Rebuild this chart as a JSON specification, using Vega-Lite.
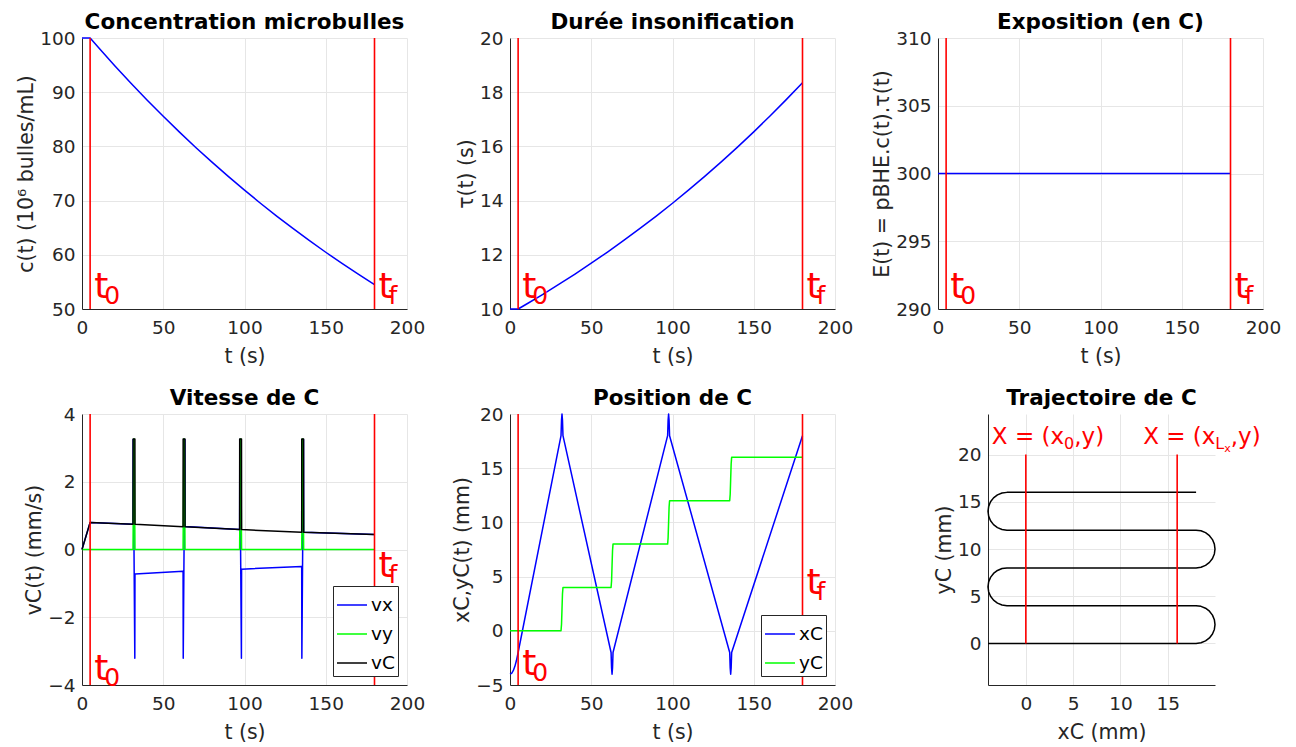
{
  "$schema": "https://vega.github.io/schema/vega-lite/v6.json",
  "padding": {"left": 16, "top": 11, "right": 5, "bottom": 0},
  "config": {
    "font": "DejaVu Sans",
    "background": "white",
    "view": {"stroke": null},
    "axis": {"grid": true, "gridColor": "#e6e6e6", "gridWidth": 1, "domainColor": "#262626", "domainWidth": 1, "ticks": false, "tickSize": 0, "labelFontSize": 18.5, "labelColor": "#262626", "labelFlush": false, "labelOverlap": false, "titleFontSize": 20.5, "titleColor": "#262626", "titleFontWeight": "normal", "labelPadding": 7, "titlePadding": 3},
    "axisX": {"labelPadding": 9, "titlePadding": 10},
    "title": {"fontSize": 21.5, "fontWeight": "bold", "color": "#000000", "offset": -4, "frame": "group"},
    "line": {"strokeWidth": 1.5, "strokeJoin": "round"}
  },
  "datasets": {
    "conc": [
      {"t": 0, "c": 100}, {"t": 5, "c": 100}, {"t": 10, "c": 98.28}, {"t": 20, "c": 94.93}, {"t": 30, "c": 91.69}, {"t": 40, "c": 88.57}, {"t": 50, "c": 85.55}, {"t": 60, "c": 82.63}, {"t": 70, "c": 79.81}, {"t": 80, "c": 77.09}, {"t": 90, "c": 74.46}, {"t": 100, "c": 71.92}, {"t": 110, "c": 69.47}, {"t": 120, "c": 67.10}, {"t": 130, "c": 64.82}, {"t": 140, "c": 62.61}, {"t": 150, "c": 60.47}, {"t": 160, "c": 58.41}, {"t": 170, "c": 56.42}, {"t": 180, "c": 54.49}
    ],
    "tau": [
      {"t": 0, "tau": 10}, {"t": 5, "tau": 10}, {"t": 10, "tau": 10.175}, {"t": 20, "tau": 10.534}, {"t": 30, "tau": 10.906}, {"t": 40, "tau": 11.291}, {"t": 50, "tau": 11.689}, {"t": 60, "tau": 12.102}, {"t": 70, "tau": 12.529}, {"t": 80, "tau": 12.972}, {"t": 90, "tau": 13.430}, {"t": 100, "tau": 13.903}, {"t": 110, "tau": 14.394}, {"t": 120, "tau": 14.902}, {"t": 130, "tau": 15.428}, {"t": 140, "tau": 15.973}, {"t": 150, "tau": 16.537}, {"t": 160, "tau": 17.121}, {"t": 170, "tau": 17.725}, {"t": 180, "tau": 18.351}
    ],
    "expo": [{"t": 0, "E": 300}, {"t": 180, "E": 300}],
    "bounds": [{"t": 5, "sub": "0"}, {"t": 180, "sub": "f"}],
    "vit": [
      {"t": 0, "v": 0, "s": "vx"}, {"t": 5, "v": 0.8, "s": "vx"}, {"t": 31.4, "v": 0.745, "s": "vx"}, {"t": 31.5, "v": 3.25, "s": "vx"}, {"t": 32.5, "v": -3.21, "s": "vx"}, {"t": 32.6, "v": -0.72, "s": "vx"}, {"t": 62.2, "v": -0.645, "s": "vx"}, {"t": 62.3, "v": -3.21, "s": "vx"}, {"t": 63.3, "v": 3.25, "s": "vx"}, {"t": 63.4, "v": 0.677, "s": "vx"}, {"t": 97.0, "v": 0.59, "s": "vx"}, {"t": 97.1, "v": 3.25, "s": "vx"}, {"t": 98.1, "v": -3.21, "s": "vx"}, {"t": 98.2, "v": -0.58, "s": "vx"}, {"t": 135.2, "v": -0.5, "s": "vx"}, {"t": 135.3, "v": -3.21, "s": "vx"}, {"t": 136.3, "v": 3.25, "s": "vx"}, {"t": 136.4, "v": 0.507, "s": "vx"}, {"t": 180, "v": 0.44, "s": "vx"},
      {"t": 0, "v": 0, "s": "vy"}, {"t": 31.4, "v": 0, "s": "vy"}, {"t": 31.9, "v": 3.26, "s": "vy"}, {"t": 32.1, "v": 3.26, "s": "vy"}, {"t": 32.6, "v": 0, "s": "vy"}, {"t": 62.2, "v": 0, "s": "vy"}, {"t": 62.7, "v": 3.26, "s": "vy"}, {"t": 62.9, "v": 3.26, "s": "vy"}, {"t": 63.4, "v": 0, "s": "vy"}, {"t": 97.0, "v": 0, "s": "vy"}, {"t": 97.5, "v": 3.26, "s": "vy"}, {"t": 97.7, "v": 3.26, "s": "vy"}, {"t": 98.2, "v": 0, "s": "vy"}, {"t": 135.2, "v": 0, "s": "vy"}, {"t": 135.7, "v": 3.26, "s": "vy"}, {"t": 135.9, "v": 3.26, "s": "vy"}, {"t": 136.4, "v": 0, "s": "vy"}, {"t": 180, "v": 0, "s": "vy"},
      {"t": 0, "v": 0, "s": "vC"}, {"t": 5, "v": 0.8, "s": "vC"}, {"t": 31.4, "v": 0.745, "s": "vC"}, {"t": 31.45, "v": 3.26, "s": "vC"}, {"t": 32.55, "v": 3.26, "s": "vC"}, {"t": 32.6, "v": 0.742, "s": "vC"}, {"t": 62.2, "v": 0.675, "s": "vC"}, {"t": 62.25, "v": 3.26, "s": "vC"}, {"t": 63.35, "v": 3.26, "s": "vC"}, {"t": 63.4, "v": 0.672, "s": "vC"}, {"t": 97.0, "v": 0.59, "s": "vC"}, {"t": 97.05, "v": 3.26, "s": "vC"}, {"t": 98.15, "v": 3.26, "s": "vC"}, {"t": 98.2, "v": 0.587, "s": "vC"}, {"t": 135.2, "v": 0.51, "s": "vC"}, {"t": 135.25, "v": 3.26, "s": "vC"}, {"t": 136.35, "v": 3.26, "s": "vC"}, {"t": 136.4, "v": 0.507, "s": "vC"}, {"t": 180, "v": 0.44, "s": "vC"}
    ],
    "pos": [
      {"t": 0, "p": -4, "s": "xC"}, {"t": 1, "p": -3.92, "s": "xC"}, {"t": 2, "p": -3.68, "s": "xC"}, {"t": 3, "p": -3.28, "s": "xC"}, {"t": 4, "p": -2.72, "s": "xC"}, {"t": 5, "p": -2, "s": "xC"}, {"t": 31.4, "p": 18, "s": "xC"}, {"t": 31.7, "p": 19.41, "s": "xC"}, {"t": 32.0, "p": 20, "s": "xC"}, {"t": 32.3, "p": 19.41, "s": "xC"}, {"t": 32.6, "p": 18, "s": "xC"}, {"t": 62.2, "p": -2, "s": "xC"}, {"t": 62.5, "p": -3.41, "s": "xC"}, {"t": 62.8, "p": -4, "s": "xC"}, {"t": 63.1, "p": -3.41, "s": "xC"}, {"t": 63.4, "p": -2, "s": "xC"}, {"t": 97.0, "p": 18, "s": "xC"}, {"t": 97.3, "p": 19.41, "s": "xC"}, {"t": 97.6, "p": 20, "s": "xC"}, {"t": 97.9, "p": 19.41, "s": "xC"}, {"t": 98.2, "p": 18, "s": "xC"}, {"t": 135.2, "p": -2, "s": "xC"}, {"t": 135.5, "p": -3.41, "s": "xC"}, {"t": 135.8, "p": -4, "s": "xC"}, {"t": 136.1, "p": -3.41, "s": "xC"}, {"t": 136.4, "p": -2, "s": "xC"}, {"t": 180, "p": 18, "s": "xC"},
      {"t": 0, "p": 0, "s": "yC"}, {"t": 31.4, "p": 0, "s": "yC"}, {"t": 31.7, "p": 0.59, "s": "yC"}, {"t": 32.0, "p": 2, "s": "yC"}, {"t": 32.3, "p": 3.41, "s": "yC"}, {"t": 32.6, "p": 4, "s": "yC"}, {"t": 62.2, "p": 4, "s": "yC"}, {"t": 62.5, "p": 4.59, "s": "yC"}, {"t": 62.8, "p": 6, "s": "yC"}, {"t": 63.1, "p": 7.41, "s": "yC"}, {"t": 63.4, "p": 8, "s": "yC"}, {"t": 97.0, "p": 8, "s": "yC"}, {"t": 97.3, "p": 8.59, "s": "yC"}, {"t": 97.6, "p": 10, "s": "yC"}, {"t": 97.9, "p": 11.41, "s": "yC"}, {"t": 98.2, "p": 12, "s": "yC"}, {"t": 135.2, "p": 12, "s": "yC"}, {"t": 135.5, "p": 12.59, "s": "yC"}, {"t": 135.8, "p": 14, "s": "yC"}, {"t": 136.1, "p": 15.41, "s": "yC"}, {"t": 136.4, "p": 16, "s": "yC"}, {"t": 180, "p": 16, "s": "yC"}
    ],
    "traj": [
      {"i": 0, "x": -4, "y": 0}, {"i": 1, "x": 18, "y": 0}, {"i": 2, "x": 18.518, "y": 0.068}, {"i": 3, "x": 19, "y": 0.268}, {"i": 4, "x": 19.414, "y": 0.586}, {"i": 5, "x": 19.732, "y": 1}, {"i": 6, "x": 19.932, "y": 1.482}, {"i": 7, "x": 20, "y": 2}, {"i": 8, "x": 19.932, "y": 2.518}, {"i": 9, "x": 19.732, "y": 3}, {"i": 10, "x": 19.414, "y": 3.414}, {"i": 11, "x": 19, "y": 3.732}, {"i": 12, "x": 18.518, "y": 3.932}, {"i": 13, "x": 18, "y": 4},
      {"i": 14, "x": -2, "y": 4}, {"i": 15, "x": -2.518, "y": 4.068}, {"i": 16, "x": -3, "y": 4.268}, {"i": 17, "x": -3.414, "y": 4.586}, {"i": 18, "x": -3.732, "y": 5}, {"i": 19, "x": -3.932, "y": 5.482}, {"i": 20, "x": -4, "y": 6}, {"i": 21, "x": -3.932, "y": 6.518}, {"i": 22, "x": -3.732, "y": 7}, {"i": 23, "x": -3.414, "y": 7.414}, {"i": 24, "x": -3, "y": 7.732}, {"i": 25, "x": -2.518, "y": 7.932}, {"i": 26, "x": -2, "y": 8},
      {"i": 27, "x": 18, "y": 8}, {"i": 28, "x": 18.518, "y": 8.068}, {"i": 29, "x": 19, "y": 8.268}, {"i": 30, "x": 19.414, "y": 8.586}, {"i": 31, "x": 19.732, "y": 9}, {"i": 32, "x": 19.932, "y": 9.482}, {"i": 33, "x": 20, "y": 10}, {"i": 34, "x": 19.932, "y": 10.518}, {"i": 35, "x": 19.732, "y": 11}, {"i": 36, "x": 19.414, "y": 11.414}, {"i": 37, "x": 19, "y": 11.732}, {"i": 38, "x": 18.518, "y": 11.932}, {"i": 39, "x": 18, "y": 12},
      {"i": 40, "x": -2, "y": 12}, {"i": 41, "x": -2.518, "y": 12.068}, {"i": 42, "x": -3, "y": 12.268}, {"i": 43, "x": -3.414, "y": 12.586}, {"i": 44, "x": -3.732, "y": 13}, {"i": 45, "x": -3.932, "y": 13.482}, {"i": 46, "x": -4, "y": 14}, {"i": 47, "x": -3.932, "y": 14.518}, {"i": 48, "x": -3.732, "y": 15}, {"i": 49, "x": -3.414, "y": 15.414}, {"i": 50, "x": -3, "y": 15.732}, {"i": 51, "x": -2.518, "y": 15.932}, {"i": 52, "x": -2, "y": 16}, {"i": 53, "x": 18, "y": 16}
    ],
    "limits": [{"x": 0, "sub": "0", "sub2": ""}, {"x": 16, "sub": "L", "sub2": "x"}]
  },
  "spacing": 20,
  "resolve": {"scale": {"color": "independent"}, "legend": {"color": "independent"}},
  "vconcat": [
    {
      "spacing": 103,
      "bounds": "flush",
      "hconcat": [
        {
          "title": "Concentration microbulles",
          "width": 325, "height": 271,
          "layer": [
            {"data": {"name": "conc"}, "mark": {"type": "line", "color": "#0000ff"},
             "encoding": {
               "x": {"field": "t", "type": "quantitative", "scale": {"domain": [0, 200], "nice": false}, "axis": {"title": "t (s)", "values": [0, 50, 100, 150, 200]}},
               "y": {"field": "c", "type": "quantitative", "scale": {"domain": [50, 100], "nice": false, "zero": false}, "axis": {"title": "c(t) (10⁶ bulles/mL)", "values": [50, 60, 70, 80, 90, 100]}}}},
            {"data": {"name": "bounds"}, "mark": {"type": "rule", "color": "#ff0000", "strokeWidth": 1.6}, "encoding": {"x": {"field": "t", "type": "quantitative"}}},
            {"data": {"name": "bounds"}, "mark": {"type": "text", "text": "t", "fontSize": 36, "color": "#ff0000", "align": "left", "baseline": "alphabetic", "dx": 4}, "encoding": {"x": {"field": "t", "type": "quantitative"}, "y": {"datum": 52}}},
            {"data": {"name": "bounds"}, "mark": {"type": "text", "fontSize": 25, "color": "#ff0000", "align": "left", "baseline": "alphabetic", "dx": 14, "dy": 6}, "encoding": {"x": {"field": "t", "type": "quantitative"}, "y": {"datum": 52}, "text": {"field": "sub"}}}
          ]
        },
        {
          "title": "Durée insonification",
          "width": 325, "height": 271,
          "layer": [
            {"data": {"name": "tau"}, "mark": {"type": "line", "color": "#0000ff"},
             "encoding": {
               "x": {"field": "t", "type": "quantitative", "scale": {"domain": [0, 200], "nice": false}, "axis": {"title": "t (s)", "values": [0, 50, 100, 150, 200]}},
               "y": {"field": "tau", "type": "quantitative", "scale": {"domain": [10, 20], "nice": false, "zero": false}, "axis": {"title": "τ(t) (s)", "values": [10, 12, 14, 16, 18, 20]}}}},
            {"data": {"name": "bounds"}, "mark": {"type": "rule", "color": "#ff0000", "strokeWidth": 1.6}, "encoding": {"x": {"field": "t", "type": "quantitative"}}},
            {"data": {"name": "bounds"}, "mark": {"type": "text", "text": "t", "fontSize": 36, "color": "#ff0000", "align": "left", "baseline": "alphabetic", "dx": 4}, "encoding": {"x": {"field": "t", "type": "quantitative"}, "y": {"datum": 10.41}}},
            {"data": {"name": "bounds"}, "mark": {"type": "text", "fontSize": 25, "color": "#ff0000", "align": "left", "baseline": "alphabetic", "dx": 14, "dy": 6}, "encoding": {"x": {"field": "t", "type": "quantitative"}, "y": {"datum": 10.41}, "text": {"field": "sub"}}}
          ]
        },
        {
          "title": "Exposition (en C)",
          "width": 325, "height": 271,
          "layer": [
            {"data": {"name": "expo"}, "mark": {"type": "line", "color": "#0000ff"},
             "encoding": {
               "x": {"field": "t", "type": "quantitative", "scale": {"domain": [0, 200], "nice": false}, "axis": {"title": "t (s)", "values": [0, 50, 100, 150, 200]}},
               "y": {"field": "E", "type": "quantitative", "scale": {"domain": [290, 310], "nice": false, "zero": false}, "axis": {"title": "E(t) = pBHE.c(t).τ(t)", "values": [290, 295, 300, 305, 310]}}}},
            {"data": {"name": "bounds"}, "mark": {"type": "rule", "color": "#ff0000", "strokeWidth": 1.6}, "encoding": {"x": {"field": "t", "type": "quantitative"}}},
            {"data": {"name": "bounds"}, "mark": {"type": "text", "text": "t", "fontSize": 36, "color": "#ff0000", "align": "left", "baseline": "alphabetic", "dx": 4}, "encoding": {"x": {"field": "t", "type": "quantitative"}, "y": {"datum": 290.8}}},
            {"data": {"name": "bounds"}, "mark": {"type": "text", "fontSize": 25, "color": "#ff0000", "align": "left", "baseline": "alphabetic", "dx": 14, "dy": 6}, "encoding": {"x": {"field": "t", "type": "quantitative"}, "y": {"datum": 290.8}, "text": {"field": "sub"}}}
          ]
        }
      ]
    },
    {
      "spacing": 103,
      "bounds": "flush",
      "resolve": {"scale": {"color": "independent"}, "legend": {"color": "independent"}},
      "hconcat": [
        {
          "title": "Vitesse de C",
          "width": 325, "height": 271,
          "encoding": {
            "x": {"field": "t", "type": "quantitative", "scale": {"domain": [0, 200], "nice": false}, "axis": {"title": "t (s)", "values": [0, 50, 100, 150, 200]}}
          },
          "layer": [
            {"data": {"name": "vit"}, "transform": [{"filter": "datum.s == 'vx'"}], "mark": {"type": "line"},
             "encoding": {
               "y": {"field": "v", "type": "quantitative", "scale": {"domain": [-4, 4], "nice": false, "zero": false}, "axis": {"title": "vC(t) (mm/s)", "values": [-4, -2, 0, 2, 4]}},
               "color": {"field": "s", "type": "nominal", "scale": {"domain": ["vx", "vy", "vC"], "range": ["#0000ff", "#00ff00", "#000000"]}, "legend": {"title": null, "orient": "bottom-right", "offset": 9, "fillColor": "#ffffff", "strokeColor": "#262626", "padding": 3, "symbolType": "stroke", "symbolSize": 900, "symbolStrokeWidth": 1.5, "labelFontSize": 18.5, "labelColor": "#000000", "rowPadding": 3, "labelOffset": 3}}}},
            {"data": {"name": "vit"}, "transform": [{"filter": "datum.s == 'vy'"}], "mark": {"type": "line"},
             "encoding": {"y": {"field": "v", "type": "quantitative"}, "color": {"field": "s", "type": "nominal"}}},
            {"data": {"name": "vit"}, "transform": [{"filter": "datum.s == 'vC'"}], "mark": {"type": "line"},
             "encoding": {"y": {"field": "v", "type": "quantitative"}, "color": {"field": "s", "type": "nominal"}}},
            {"data": {"name": "bounds"}, "mark": {"type": "rule", "color": "#ff0000", "strokeWidth": 1.6}, "encoding": {"x": {"field": "t", "type": "quantitative"}}},
            {"data": {"name": "bounds"}, "transform": [{"filter": "datum.t < 100"}], "mark": {"type": "text", "text": "t", "fontSize": 36, "color": "#ff0000", "align": "left", "baseline": "alphabetic", "dx": 4}, "encoding": {"x": {"field": "t", "type": "quantitative"}, "y": {"datum": -3.84}}},
            {"data": {"name": "bounds"}, "transform": [{"filter": "datum.t < 100"}], "mark": {"type": "text", "fontSize": 25, "color": "#ff0000", "align": "left", "baseline": "alphabetic", "dx": 14, "dy": 6}, "encoding": {"x": {"field": "t", "type": "quantitative"}, "y": {"datum": -3.84}, "text": {"field": "sub"}}},
            {"data": {"name": "bounds"}, "transform": [{"filter": "datum.t > 100"}], "mark": {"type": "text", "text": "t", "fontSize": 36, "color": "#ff0000", "align": "left", "baseline": "alphabetic", "dx": 4}, "encoding": {"x": {"field": "t", "type": "quantitative"}, "y": {"datum": -0.8}}},
            {"data": {"name": "bounds"}, "transform": [{"filter": "datum.t > 100"}], "mark": {"type": "text", "fontSize": 25, "color": "#ff0000", "align": "left", "baseline": "alphabetic", "dx": 14, "dy": 6}, "encoding": {"x": {"field": "t", "type": "quantitative"}, "y": {"datum": -0.8}, "text": {"field": "sub"}}}
          ]
        },
        {
          "spacing": 153,
          "bounds": "flush",
          "resolve": {"scale": {"color": "independent"}, "legend": {"color": "independent"}},
          "hconcat": [
            {
              "title": "Position de C",
              "width": 325, "height": 271,
              "encoding": {
                "x": {"field": "t", "type": "quantitative", "scale": {"domain": [0, 200], "nice": false}, "axis": {"title": "t (s)", "values": [0, 50, 100, 150, 200]}}
              },
              "layer": [
                {"data": {"name": "pos"}, "transform": [{"filter": "datum.s == 'xC'"}], "mark": {"type": "line"},
                 "encoding": {
                   "y": {"field": "p", "type": "quantitative", "scale": {"domain": [-5, 20], "nice": false, "zero": false}, "axis": {"title": "xC,yC(t) (mm)", "values": [-5, 0, 5, 10, 15, 20]}},
                   "color": {"field": "s", "type": "nominal", "scale": {"domain": ["xC", "yC"], "range": ["#0000ff", "#00ff00"]}, "legend": {"title": null, "orient": "bottom-right", "offset": 9, "fillColor": "#ffffff", "strokeColor": "#262626", "padding": 3, "symbolType": "stroke", "symbolSize": 900, "symbolStrokeWidth": 1.5, "labelFontSize": 18.5, "labelColor": "#000000", "rowPadding": 3, "labelOffset": 3}}}},
                {"data": {"name": "pos"}, "transform": [{"filter": "datum.s == 'yC'"}], "mark": {"type": "line"},
                 "encoding": {"y": {"field": "p", "type": "quantitative"}, "color": {"field": "s", "type": "nominal"}}},
                {"data": {"name": "bounds"}, "mark": {"type": "rule", "color": "#ff0000", "strokeWidth": 1.6}, "encoding": {"x": {"field": "t", "type": "quantitative"}}},
                {"data": {"name": "bounds"}, "transform": [{"filter": "datum.t < 100"}], "mark": {"type": "text", "text": "t", "fontSize": 36, "color": "#ff0000", "align": "left", "baseline": "alphabetic", "dx": 4}, "encoding": {"x": {"field": "t", "type": "quantitative"}, "y": {"datum": -4.08}}},
                {"data": {"name": "bounds"}, "transform": [{"filter": "datum.t < 100"}], "mark": {"type": "text", "fontSize": 25, "color": "#ff0000", "align": "left", "baseline": "alphabetic", "dx": 14, "dy": 6}, "encoding": {"x": {"field": "t", "type": "quantitative"}, "y": {"datum": -4.08}, "text": {"field": "sub"}}},
                {"data": {"name": "bounds"}, "transform": [{"filter": "datum.t > 100"}], "mark": {"type": "text", "text": "t", "fontSize": 36, "color": "#ff0000", "align": "left", "baseline": "alphabetic", "dx": 4}, "encoding": {"x": {"field": "t", "type": "quantitative"}, "y": {"datum": 3.4}}},
                {"data": {"name": "bounds"}, "transform": [{"filter": "datum.t > 100"}], "mark": {"type": "text", "fontSize": 25, "color": "#ff0000", "align": "left", "baseline": "alphabetic", "dx": 14, "dy": 6}, "encoding": {"x": {"field": "t", "type": "quantitative"}, "y": {"datum": 3.4}, "text": {"field": "sub"}}}
              ]
            },
            {
              "title": {"text": "Trajectoire de C", "offset": 5},
              "width": 227, "height": 271,
              "encoding": {
                "x": {"field": "x", "type": "quantitative", "scale": {"domain": [-4, 20], "nice": false, "zero": false}, "axis": {"title": "xC (mm)", "values": [0, 5, 10, 15]}}
              },
              "layer": [
                {"data": {"name": "traj"}, "mark": {"type": "line", "color": "#000000"},
                 "encoding": {
                   "y": {"field": "y", "type": "quantitative", "scale": {"domain": [-4.4, 24.3], "nice": false, "zero": false}, "axis": {"title": "yC (mm)", "values": [0, 5, 10, 15, 20]}},
                   "order": {"field": "i", "type": "quantitative"}}},
                {"data": {"name": "limits"}, "mark": {"type": "rule", "color": "#ff0000", "strokeWidth": 1.6}, "encoding": {"y": {"datum": 0}, "y2": {"datum": 20}}},
                {"data": {"name": "limits"}, "mark": {"type": "text", "text": "X = (x", "fontSize": 23, "color": "#ff0000", "align": "left", "baseline": "alphabetic", "dx": -34}, "encoding": {"y": {"datum": 21.1}}},
                {"data": {"name": "limits"}, "mark": {"type": "text", "fontSize": 16, "color": "#ff0000", "align": "left", "baseline": "alphabetic", "dx": 38.2, "dy": 5}, "encoding": {"y": {"datum": 21.1}, "text": {"field": "sub"}}},
                {"data": {"name": "limits"}, "mark": {"type": "text", "fontSize": 11, "color": "#ff0000", "align": "left", "baseline": "alphabetic", "dx": 47.1, "dy": 8}, "encoding": {"y": {"datum": 21.1}, "text": {"field": "sub2"}}},
                {"data": {"name": "limits"}, "transform": [{"filter": "datum.x < 8"}], "mark": {"type": "text", "text": ",y)", "fontSize": 23, "color": "#ff0000", "align": "left", "baseline": "alphabetic", "dx": 48.4}, "encoding": {"y": {"datum": 21.1}}},
                {"data": {"name": "limits"}, "transform": [{"filter": "datum.x > 8"}], "mark": {"type": "text", "text": ",y)", "fontSize": 23, "color": "#ff0000", "align": "left", "baseline": "alphabetic", "dx": 53.6}, "encoding": {"y": {"datum": 21.1}}}
              ]
            }
          ]
        }
      ]
    }
  ]
}
